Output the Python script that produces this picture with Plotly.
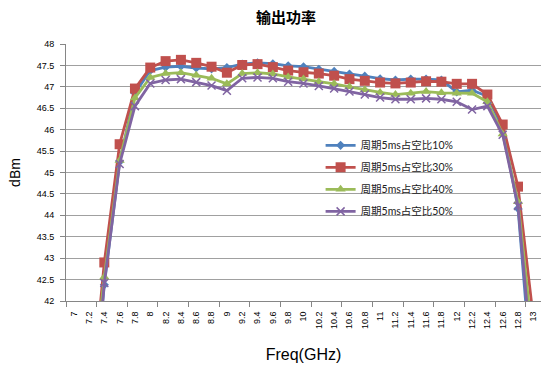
import plotly.graph_objects as go

# Frequency categories (GHz) shown on the horizontal axis
freq = ["7", "7.2", "7.4", "7.6", "7.8", "8", "8.2", "8.4", "8.6", "8.8",
        "9", "9.2", "9.4", "9.6", "9.8", "10", "10.2", "10.4", "10.6", "10.8",
        "11", "11.2", "11.4", "11.6", "11.8", "12", "12.2", "12.4", "12.6", "12.8", "13"]

# Output power (dBm) for a 5 ms period at several duty cycles
duty10 = [None, 38.4, 42.38, 45.25, 46.85, 47.38, 47.46, 47.48, 47.44, 47.42,
          47.45, 47.53, 47.56, 47.54, 47.49, 47.47, 47.41, 47.36, 47.30, 47.25,
          47.19, 47.16, 47.18, 47.18, 47.16, 46.88, 46.92, 46.78, 46.05, 44.16, 39.8]
duty30 = [None, 39.1, 42.90, 45.66, 46.96, 47.45, 47.60, 47.63, 47.56, 47.47,
          47.33, 47.51, 47.53, 47.46, 47.38, 47.34, 47.31, 47.26, 47.18, 47.14,
          47.10, 47.08, 47.10, 47.13, 47.12, 47.07, 47.07, 46.82, 46.12, 44.67, 41.6]
duty40 = [None, 39.3, 42.56, 45.28, 46.74, 47.22, 47.31, 47.33, 47.27, 47.20,
          47.07, 47.31, 47.33, 47.30, 47.23, 47.18, 47.12, 47.07, 47.00, 46.93,
          46.87, 46.82, 46.85, 46.89, 46.86, 46.85, 46.85, 46.65, 45.90, 44.32, 40.96]
duty50 = [None, 38.4, 42.42, 45.20, 46.55, 47.08, 47.16, 47.18, 47.11, 47.03,
          46.91, 47.20, 47.22, 47.20, 47.12, 47.08, 47.02, 46.96, 46.89, 46.82,
          46.75, 46.71, 46.71, 46.73, 46.71, 46.65, 46.47, 46.55, 45.88, 44.22, 40.26]

series_names = ["周期5ms占空比10%", "周期5ms占空比30%", "周期5ms占空比40%", "周期5ms占空比50%"]

y_ticks = [42, 42.5, 43, 43.5, 44, 44.5, 45, 45.5, 46, 46.5, 47, 47.5, 48]

styles = [
    dict(color="#4F81BD", symbol="diamond", size=7, line=0),
    dict(color="#C0504D", symbol="square", size=10, line=0),
    dict(color="#9BBB59", symbol="triangle-up", size=9, line=0),
    dict(color="#8064A2", symbol="x-thin", size=8, line=1.5),
]

fig = go.Figure()
for name, vals, st in zip(series_names, [duty10, duty30, duty40, duty50], styles):
    fig.add_trace(go.Scatter(
        x=freq, y=vals, name=name, mode="lines+markers",
        legendgroup=name,
        line=dict(color=st["color"], width=2.8),
        marker=dict(symbol=st["symbol"], size=st["size"], color=st["color"],
                    line=dict(width=st["line"], color=st["color"])),
        cliponaxis=True,
    ))

# tick marks every second category boundary, on an overlaid linear axis
boundaries = [i - 0.5 for i in range(0, len(freq), 2)]
fig.add_trace(go.Scatter(x=[boundaries[0]], y=[None], xaxis="x2", yaxis="y",
                         mode="markers", showlegend=False, hoverinfo="skip"))

grid = "#a0a0a0"
axis_col = "#868686"
tick_font = dict(family="Liberation Sans, Arial, sans-serif", size=9, color="#000000")

fig.update_layout(
    width=541, height=367,
    margin=dict(l=66, r=0, t=44, b=66),
    paper_bgcolor="white", plot_bgcolor="white",
    title=dict(text="<b>输出功率</b>", x=286 / 541, xref="container", xanchor="center",
               y=1 - 18 / 367, yref="container", yanchor="middle",
               font=dict(family="Noto Sans CJK SC, sans-serif", size=15, color="#000000")),
    xaxis=dict(type="category", categoryorder="array", categoryarray=freq,
               tickvals=freq, range=[-0.5, len(freq) - 0.5],
               tickangle=-90, ticks="", tickfont=tick_font, ticklabelstandoff=6,
               showgrid=False, showline=True, linecolor=axis_col, linewidth=1,
               zeroline=False,
               title=dict(text="Freq(GHz)", standoff=20,
                          font=dict(family="Liberation Sans, Arial, sans-serif", size=16, color="#000000"))),
    xaxis2=dict(overlaying="x", anchor="y", side="bottom", type="linear",
                range=[-0.5, len(freq) - 0.5],
                tickmode="array", tickvals=boundaries, showticklabels=False,
                ticks="outside", ticklen=5, tickcolor=axis_col, showgrid=False,
                showline=False, zeroline=False),
    yaxis=dict(range=[42, 48], tickvals=y_ticks, tickfont=tick_font,
               ticks="outside", ticklen=5, tickcolor=axis_col,
               ticklabelstandoff=4,
               showgrid=True, gridcolor=grid, gridwidth=1,
               showline=True, linecolor=axis_col, linewidth=1, zeroline=False,
               title=dict(text="dBm", standoff=12,
                          font=dict(family="Liberation Sans, Arial, sans-serif", size=14, color="#000000"))),
    legend=dict(x=0.536, y=0.662, xanchor="left", yanchor="top",
                bgcolor="rgba(0,0,0,0)", traceorder="grouped", tracegroupgap=3,
                font=dict(family="Lato, Noto Sans CJK SC, sans-serif", size=10.5, color="#222222"),
                itemwidth=30),
    showlegend=True,
)

fig.write_html("out.html")
